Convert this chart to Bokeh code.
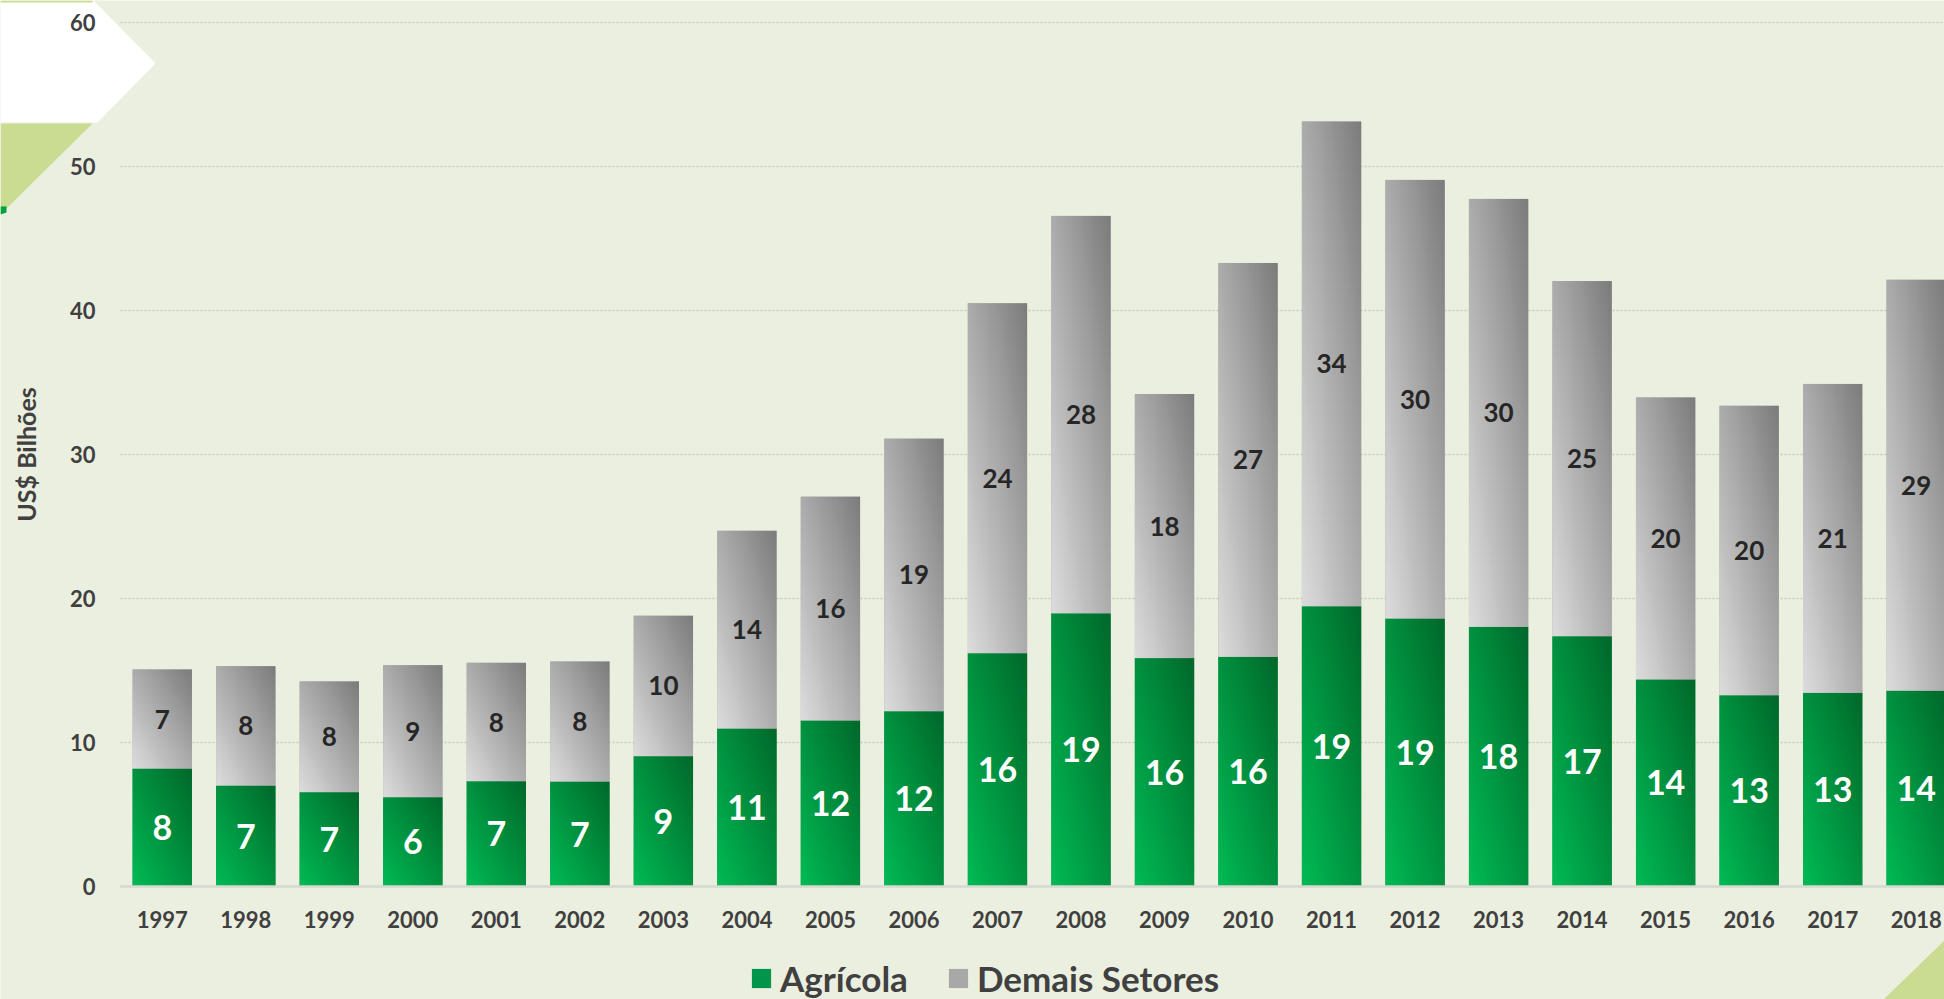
import numpy as np
from bokeh.plotting import figure
from bokeh.models import (ColumnDataSource, Range1d, Legend, LegendItem,
                          PolyAnnotation, FixedTicker, Grid)
from bokeh.core.properties import value
from bokeh.embed import file_html
from bokeh.resources import INLINE

# ---------------- data ----------------
years = ["1997", "1998", "1999", "2000", "2001", "2002", "2003", "2004",
         "2005", "2006", "2007", "2008", "2009", "2010", "2011", "2012",
         "2013", "2014", "2015", "2016", "2017", "2018"]
agricola = [8.19, 7.01, 6.55, 6.20, 7.31, 7.29, 9.05, 10.97, 11.53, 12.17,
            16.20, 18.97, 15.86, 15.95, 19.46, 18.61, 18.03, 17.38, 14.38,
            13.28, 13.45, 13.60]
demais = [6.88, 8.29, 7.69, 9.17, 8.22, 8.33, 9.75, 13.73, 15.54, 18.93,
          24.30, 27.60, 18.34, 27.35, 33.66, 30.46, 29.72, 24.66, 19.58,
          20.10, 21.45, 28.53]
y_ticks = [0, 10, 20, 30, 40, 50, 60]
series_names = ["Agrícola", "Demais Setores"]
y_title = "US$ Bilhões"

# ---------------- style / layout ----------------
BG = "#EBEFDF"
TXT = "#404040"
FONT = "Lato"
W, H = 1944, 999
AX_L, AX_T, AX_B = 120, 22, 886     # plotting area (px) inside the canvas
BAND = 83.52                        # px per category
BW = 0.71

n = len(years)
xs = list(range(n))
tot = [a + d for a, d in zip(agricola, demais)]

y_max = y_ticks[-1]
ppu = (AX_B - AX_T) / y_max
x_start = -0.5 - AX_L / BAND
x_end = -0.5 + (W - AX_L) / BAND
y_start = -(H - AX_B) / ppu
y_end = y_max + AX_T / ppu

# gradient images (bottom-left light -> top-right dark)
N = 48
u = np.linspace(0, 1, N)
U, V = np.meshgrid(u, u)
T = (U + V) / 2.0


def grad(c0, c1):
    c0 = np.array(c0, dtype=float)
    c1 = np.array(c1, dtype=float)
    rgb = c0[None, None, :] * (1 - T[..., None]) + c1[None, None, :] * T[..., None]
    img = np.empty((N, N), dtype=np.uint32)
    view = img.view(dtype=np.uint8).reshape((N, N, 4))
    view[..., :3] = np.round(rgb).astype(np.uint8)
    view[..., 3] = 255
    return img


g_img = grad((0, 186, 84), (0, 104, 42))
s_img = grad((220, 220, 220), (124, 124, 124))

src = ColumnDataSource(data=dict(
    x=xs,
    left=[i - BW / 2 for i in xs],
    ag=agricola,
    dem=demais,
    tot=tot,
    ag_mid=[a / 2 for a in agricola],
    dem_mid=[a + d / 2 for a, d in zip(agricola, demais)],
    ag_lbl=[f"{a:.0f}" for a in agricola],
    dem_lbl=[f"{d:.0f}" for d in demais],
    gimg=[g_img] * n,
    simg=[s_img] * n,
))

p = figure(width=W, height=H, output_backend="svg", toolbar_location=None,
           x_range=Range1d(x_start, x_end), y_range=Range1d(y_start, y_end),
           min_border=0, min_border_left=0, min_border_right=0,
           min_border_top=0, min_border_bottom=0)
p.background_fill_color = BG
p.border_fill_color = BG
p.outline_line_color = None


# decorations (slide shapes), canvas px with origin at top-left
def deco(pts, color):
    p.add_layout(PolyAnnotation(
        xs=[fx for fx, fy in pts], ys=[H - fy for fx, fy in pts],
        xs_units="screen", ys_units="screen",
        fill_color=color, fill_alpha=1.0, line_color=None, level="underlay"))


deco([(0, 0), (93, 0), (155, 63), (97, 122), (0, 122)], "#FFFFFF")
deco([(0, 123), (92, 123), (0, 214)], "#C9DC92")
deco([(0, 0), (92, 0), (92, 2), (0, 2)], "#C9DC92")
deco([(0, 206), (6, 206), (6, 212), (0, 214)], "#00A040")
deco([(1883, 999), (1944, 940), (1944, 999)], "#C9DC92")

# bars
r1 = p.vbar(x="x", bottom=0, top="ag", width=BW, source=src,
            fill_color="#00954A", line_color=None)
r2 = p.vbar(x="x", bottom="ag", top="tot", width=BW, source=src,
            fill_color="#A8A8A8", line_color=None)
p.image_rgba(image="gimg", x="left", y=0, dw=BW, dh="ag", source=src)
p.image_rgba(image="simg", x="left", y="ag", dw=BW, dh="dem", source=src)

# data labels
p.text(x="x", y="ag_mid", text="ag_lbl", source=src, text_align="center",
       text_baseline="middle", text_color="white", text_font=value(FONT),
       text_font_style="bold", text_font_size="34px")
p.text(x="x", y="dem_mid", text="dem_lbl", source=src, text_align="center",
       text_baseline="middle", text_color="#262626", text_font=value(FONT),
       text_font_style="bold", text_font_size="26px")

# grid
p.xgrid.visible = False
p.ygrid.ticker = FixedTicker(ticks=y_ticks)
p.ygrid.grid_line_color = "#C6C9BC"
p.ygrid.grid_line_dash = "2 2"
p.ygrid.grid_line_width = 1.5
p.ygrid.bounds = (0, y_max)
try:
    p.ygrid.cross_bounds = (-0.5, x_end)
except Exception:
    p.ygrid.visible = False
    p.segment(x0=[-0.5] * len(y_ticks), x1=[x_end] * len(y_ticks),
              y0=y_ticks, y1=y_ticks, line_color="#C6C9BC",
              line_dash="2 2", line_width=1.5, level="underlay")

# y axis
p.yaxis.fixed_location = -0.5
p.yaxis.bounds = (0, y_max)
p.yaxis.ticker = FixedTicker(ticks=y_ticks)
p.yaxis.axis_line_color = None
p.yaxis.major_tick_line_color = None
p.yaxis.minor_tick_line_color = None
p.yaxis.major_tick_out = 0
p.yaxis.major_tick_in = 0
p.yaxis.major_label_standoff = 25
p.yaxis.major_label_text_font = FONT
p.yaxis.major_label_text_font_style = "bold"
p.yaxis.major_label_text_font_size = "22px"
p.yaxis.major_label_text_color = TXT
p.yaxis.axis_label = y_title
p.yaxis.axis_label_text_font = FONT
p.yaxis.axis_label_text_font_style = "bold"
p.yaxis.axis_label_text_font_size = "25px"
p.yaxis.axis_label_text_color = TXT
p.yaxis.axis_label_standoff = 26

# x axis
p.xaxis.fixed_location = 0
p.xaxis.bounds = (-0.5, x_end)
p.xaxis.ticker = FixedTicker(ticks=xs)
p.xaxis.major_label_overrides = {i: y for i, y in zip(xs, years)}
p.xaxis.axis_line_color = "#D6D8D2"
p.xaxis.axis_line_width = 2.5
p.xaxis.major_tick_line_color = None
p.xaxis.minor_tick_line_color = None
p.xaxis.major_tick_out = 0
p.xaxis.major_tick_in = 0
p.xaxis.major_label_standoff = 24
p.xaxis.major_label_text_font = FONT
p.xaxis.major_label_text_font_style = "bold"
p.xaxis.major_label_text_font_size = "22px"
p.xaxis.major_label_text_color = TXT

legend = Legend(items=[LegendItem(label=series_names[0], renderers=[r1]),
                       LegendItem(label=series_names[1], renderers=[r2])],
                location=(749, 0), orientation="horizontal",
                background_fill_alpha=0, border_line_alpha=0, padding=0,
                margin=0, spacing=38, glyph_width=24, glyph_height=24,
                label_standoff=7, label_text_font=FONT,
                label_text_font_style="bold", label_text_font_size="35px",
                label_text_color=TXT)
p.add_layout(legend)

open("out.html", "w").write(file_html(p, INLINE))
